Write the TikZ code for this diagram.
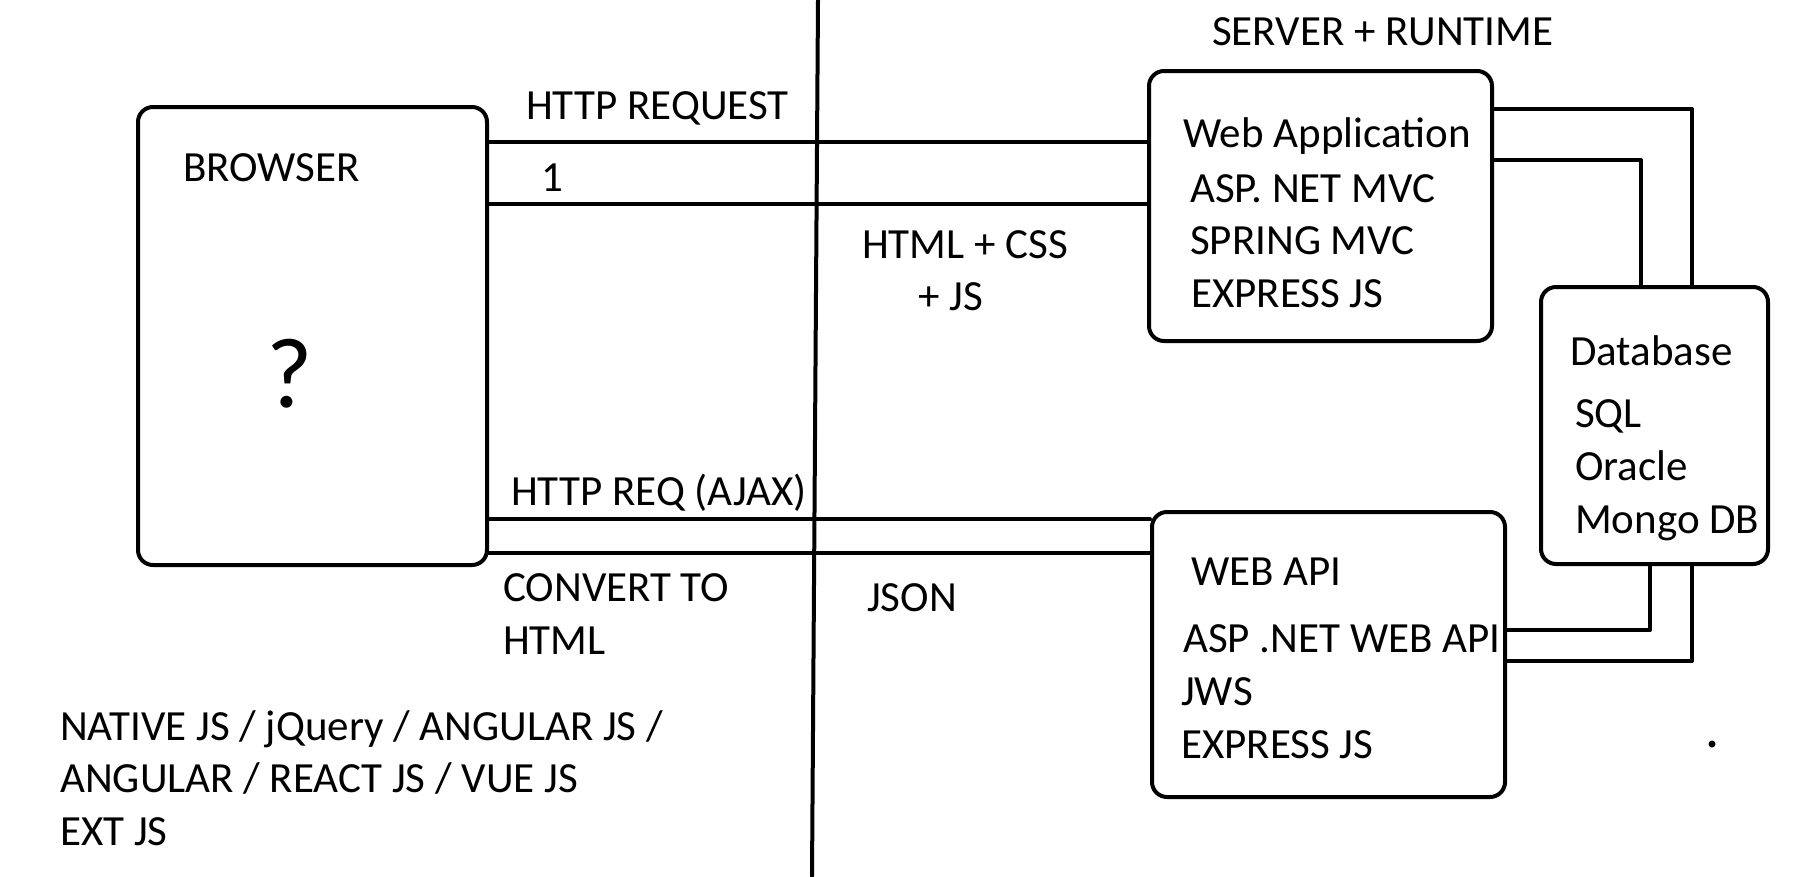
\documentclass[tikz,border=0pt]{standalone}
\usepackage{fontspec}
\setmainfont{Carlito}
\tikzset{
  box/.style={draw, line width=4pt, rounded corners=15pt, inner sep=0pt},
  lbl/.style={anchor=base west, inner sep=0pt, font=\fontsize{43}{50}\selectfont},
  wire/.style={line width=4pt, line cap=round, line join=round}
}
\begin{document}
\begin{tikzpicture}[x=1pt, y=-1pt]
\useasboundingbox[fill=white] (0,0) rectangle (1797,876);
% boxes
\node[box, minimum width=349pt, minimum height=458pt] (browser) at (312.5,336) {};
\node[box, minimum width=343pt, minimum height=270pt] (webapp) at (1320.5,206) {};
\node[box, minimum width=353pt, minimum height=285pt] (webapi) at (1328.5,654.5) {};
\node[box, minimum width=227pt, minimum height=277pt] (db) at (1654.5,425.5) {};
% divider
\coordinate (dtop) at (818,0);
\coordinate (dbot) at (812,876);
\draw[wire] (dtop) -- (dbot);
% browser <-> server lines
\coordinate (l1) at (0,142);
\coordinate (l2) at (0,204);
\coordinate (l3) at (0,519);
\coordinate (l4) at (0,553);
\draw[wire] (browser.east |- l1) -- (webapp.west |- l1);
\draw[wire] (browser.east |- l2) -- (webapp.west |- l2);
\draw[wire] (browser.east |- l3) -- (webapi.west |- l3);
\draw[wire] (browser.east |- l4) -- (webapi.west |- l4);
% server <-> database
\coordinate (c1) at (1692,109);
\coordinate (c2) at (1641,160);
\coordinate (c3) at (1650,630);
\coordinate (c4) at (1692,661);
\draw[wire] (webapp.east |- c1) -- (c1) -- (c1 |- db.north);
\draw[wire] (webapp.east |- c2) -- (c2) -- (c2 |- db.north);
\draw[wire] (webapi.east |- c3) -- (c3) -- (c3 |- db.south);
\draw[wire] (webapi.east |- c4) -- (c4) -- (c4 |- db.south);
% labels
\node[lbl] (server) at (1212,45) {SERVER + RUNTIME};
\node[lbl] (httpreq) at (526,119) {HTTP REQUEST};
\node[lbl] (one) at (541,191) {1};
\node[lbl] (browsertxt) at (183,181) {BROWSER};
\node[anchor=base, inner sep=0pt, font=\fontsize{100}{110}\selectfont] (q) at (290,407) {?};
\node[lbl] (html1) at (862,258) {HTML + CSS};
\node[lbl] (html2) at (918,310) {+ JS};
\node[lbl] (json) at (867,611) {JSON};
\node[lbl] (ajax) at (511,505) {HTTP REQ (AJAX)};
\node[lbl] (conv1) at (503,601) {CONVERT TO};
\node[lbl] (conv2) at (503,654) {HTML};
\node[lbl] (wa1) at (1183,147) {Web Application};
\node[lbl] (wa2) at (1190,202) {ASP. NET MVC};
\node[lbl] (wa3) at (1190,254) {SPRING MVC};
\node[lbl] (wa4) at (1191,307) {EXPRESS JS};
\node[lbl] (api1) at (1191,585) {WEB API};
\node[lbl] (api2) at (1183,652) {ASP .NET WEB API};
\node[lbl] (api3) at (1181,705) {JWS};
\node[lbl] (api4) at (1181,758) {EXPRESS JS};
\node[lbl] (db1) at (1570,365) {Database};
\node[lbl] (db2) at (1575,427) {SQL};
\node[lbl] (db3) at (1575,480) {Oracle};
\node[lbl] (db4) at (1575,533) {Mongo DB};
\node[lbl] (fw1) at (60,740) {NATIVE JS / jQuery / ANGULAR JS /};
\node[lbl] (fw2) at (60,792) {ANGULAR / REACT JS / VUE JS};
\node[lbl] (fw3) at (60,845) {EXT JS};
\node[circle, fill, inner sep=0pt, minimum size=7pt] (dot) at (1712,744) {};
\end{tikzpicture}
\end{document}
